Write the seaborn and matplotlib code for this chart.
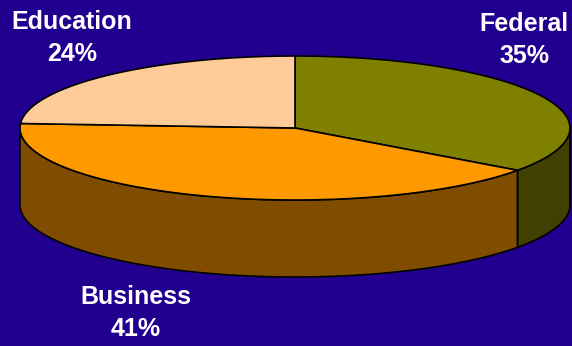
import numpy as np
import matplotlib
matplotlib.use("Agg")
import matplotlib.pyplot as plt
from matplotlib.patches import Polygon
import seaborn as sns

# ---- data ----
categories = ["Federal", "Business", "Education"]
values = [35, 41, 24]
labels = ["Federal\n35%", "Business\n41%", "Education\n24%"]

# ---- styles ----
sns.set_theme(style="white")
plt.rcParams['font.family'] = ['Liberation Sans', 'DejaVu Sans']
top_colors = sns.color_palette(["#808000", "#FF9900", "#FFCC99"])
side_colors = sns.color_palette(["#404000", "#7F4C00", "#7F6650"])
bg = "#22008F"

W, H = 572, 346
fig = plt.figure(figsize=(W / 100, H / 100), dpi=100)
fig.patch.set_facecolor(bg)
ax = fig.add_axes([0, 0, 1, 1])
ax.set_facecolor(bg)
ax.set_xlim(0, W)
ax.set_ylim(H, 0)
ax.axis("off")

cx, cy, rx, ry, depth = 295, 128, 275, 72, 77


def pt(theta_deg, dy=0.0):
    t = np.radians(theta_deg)
    return cx + rx * np.cos(t), cy - ry * np.sin(t) + dy


def arc(a0, a1, dy=0.0, n=200):
    ts = np.linspace(a0, a1, n)
    return [pt(t, dy) for t in ts]


total = float(sum(values))
start = 90.0
bounds = []
for v in values:
    end = start - 360.0 * v / total
    bounds.append((start, end))
    start = end

# sides (front half: angles between -180 and 0)
for (a0, a1), sc in zip(bounds, side_colors):
    s = min(a0, 0.0)
    e = max(a1, -180.0)
    if s > e:
        top = arc(s, e)
        bot = arc(e, s, dy=depth)
        ax.add_patch(Polygon(top + bot, closed=True, facecolor=sc,
                             edgecolor="black", lw=1.2, joinstyle="round"))

# tops
for (a0, a1), tc in zip(bounds, top_colors):
    poly = [(cx, cy)] + arc(a0, a1)
    ax.add_patch(Polygon(poly, closed=True, facecolor=tc,
                         edgecolor="black", lw=1.2, joinstyle="round"))

# labels
label_pos = [(524, 40), (136, 313), (72, 38)]
for lab, (x, y) in zip(labels, label_pos):
    ax.text(x, y, lab, color="white", fontsize=18, fontweight="bold",
            ha="center", va="center", linespacing=1.45)

fig.savefig("out.png", dpi=100, facecolor=bg)
